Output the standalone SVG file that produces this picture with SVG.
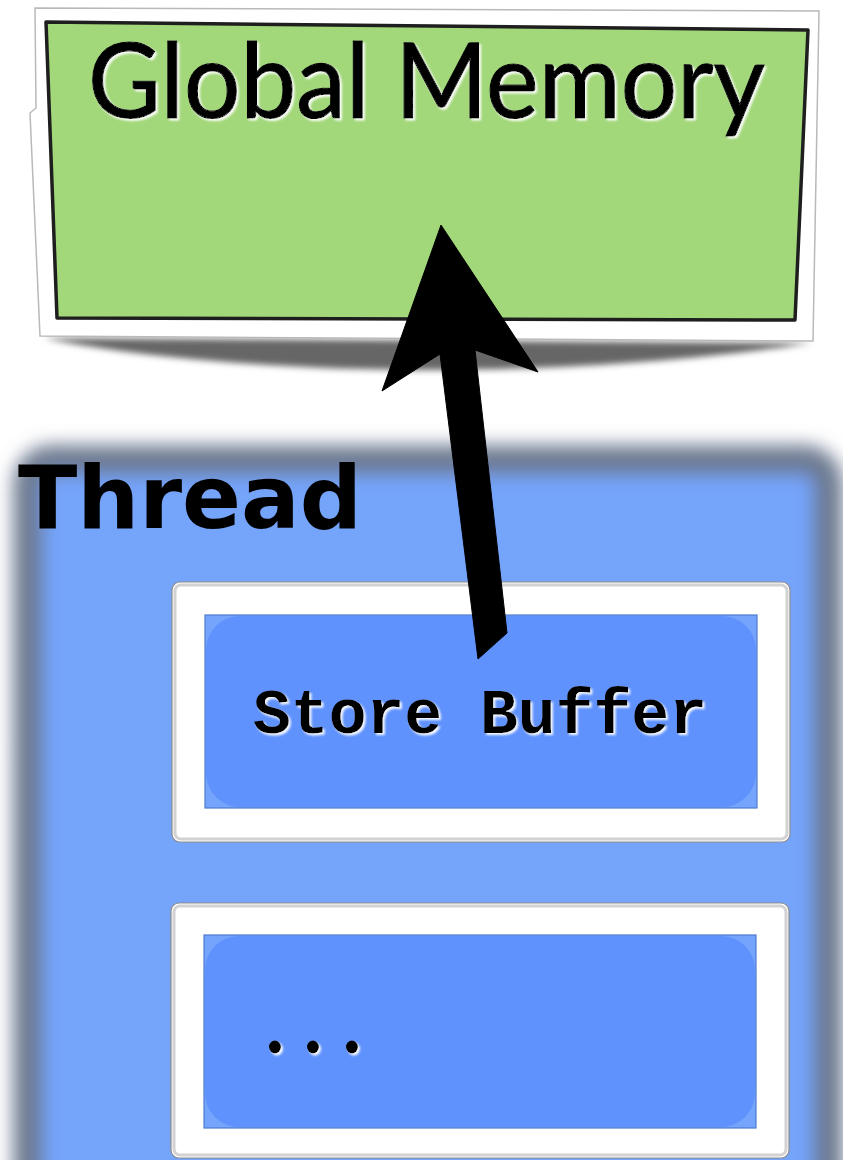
<svg xmlns="http://www.w3.org/2000/svg" width="843" height="1160" viewBox="0 0 843 1160">
  <style>
    .frame { fill: #ffffff; stroke: #b9b9b9; stroke-width: 1.5; }
    .slot { fill: #ffffff; stroke: #8c8c8c; stroke-width: 1.2; }
    .slot-edge { fill: none; stroke: #d2d2d2; stroke-width: 3; }
    .cell-back { fill: #74a4fb; stroke: #4e7ccf; stroke-width: 1.2; }
    .cell { fill: #6092fd; }
    .label-gm { font-family: Lato, "Open Sans", "Liberation Sans", sans-serif; font-size: 104px; fill: #000; stroke: #000; stroke-width: 1.2; }
    .label-thread { font-family: "DejaVu Sans", "Liberation Sans", sans-serif; font-weight: bold; font-size: 88px; fill: #000; }
    .label-mono { font-family: "Liberation Mono", "Courier New", monospace; font-weight: bold; font-size: 63px; fill: #000; }
  </style>
  <defs>
    <filter id="soft-edge" x="-10%" y="-10%" width="120%" height="120%">
      <feGaussianBlur stdDeviation="9"/>
    </filter>
    <filter id="shadow-blur" x="-10%" y="-50%" width="120%" height="200%">
      <feGaussianBlur stdDeviation="3"/>
    </filter>
    <filter id="slight-blur">
      <feGaussianBlur stdDeviation="0.6"/>
    </filter>
    <filter id="text-glow" x="-5%" y="-20%" width="110%" height="140%">
      <feDropShadow dx="2" dy="2" stdDeviation="0.8" flood-color="#ffffff" flood-opacity="0.95"/>
    </filter>
    <filter id="dot-glow" x="-50%" y="-50%" width="200%" height="200%">
      <feDropShadow dx="2" dy="2" stdDeviation="0.8" flood-color="#ffffff" flood-opacity="0.95"/>
    </filter>
  </defs>

  <rect width="843" height="1160" fill="#ffffff"/>

  <!-- Thread container with soft shaded border -->
  <g id="thread">
    <rect x="28" y="460" width="800" height="740" rx="24" fill="#74a4fb" stroke="#6d7a91" stroke-width="30" filter="url(#soft-edge)"/>
    <text class="label-thread" x="18" y="528" textLength="344" lengthAdjust="spacingAndGlyphs">Thread</text>
  </g>

  <!-- Global memory card -->
  <g id="global-memory">
    <path d="M44,338 L812,343 C700,360 560,370 430,370 C300,370 150,360 44,338 Z" fill="#666666" filter="url(#shadow-blur)"/>
    <path class="frame" d="M35,8 L819,11 L813,341 L40,336 L30,113 L36,108 Z"/>
    <path d="M46,22 L808,30 L795,320 L57,318 Z" fill="#a2d77a" stroke="#1e1e1e" stroke-width="3.5" stroke-linejoin="round"/>
    <text class="label-gm" x="88" y="118" textLength="677" lengthAdjust="spacingAndGlyphs" filter="url(#text-glow)">Global Memory</text>
  </g>

  <!-- Store buffer slot -->
  <g id="store-buffer">
    <rect class="slot" x="172" y="582" width="618" height="260" rx="8"/>
    <rect class="slot-edge" x="175" y="585" width="612" height="254" rx="6" filter="url(#slight-blur)"/>
    <rect class="cell-back" x="205" y="615" width="552" height="193"/>
    <rect class="cell" x="206" y="616" width="550" height="191" rx="34"/>
    <text class="label-mono" x="253" y="733" textLength="454" lengthAdjust="spacingAndGlyphs" filter="url(#text-glow)">Store Buffer</text>
  </g>

  <!-- Further slot -->
  <g id="more-entries">
    <rect class="slot" x="171" y="903" width="618" height="255" rx="8"/>
    <rect class="slot-edge" x="174" y="906" width="612" height="249" rx="6" filter="url(#slight-blur)"/>
    <rect class="cell-back" x="204" y="935" width="552" height="193"/>
    <rect class="cell" x="205" y="936" width="550" height="191" rx="34"/>
    <g filter="url(#dot-glow)" fill="#000">
      <ellipse cx="275" cy="1047" rx="6" ry="6.5"/>
      <ellipse cx="313" cy="1047" rx="6" ry="6.5"/>
      <ellipse cx="352" cy="1047" rx="6" ry="6.5"/>
    </g>
  </g>

  <!-- Write-back arrow from the buffer up to memory -->
  <g id="connectors">
    <path d="M441,225 L538,372 L475,350 L507,633 L478,659 L440,354 L382,391 Z" fill="#000000" stroke="#000" stroke-width="1" stroke-linejoin="miter"/>
  </g>
</svg>
